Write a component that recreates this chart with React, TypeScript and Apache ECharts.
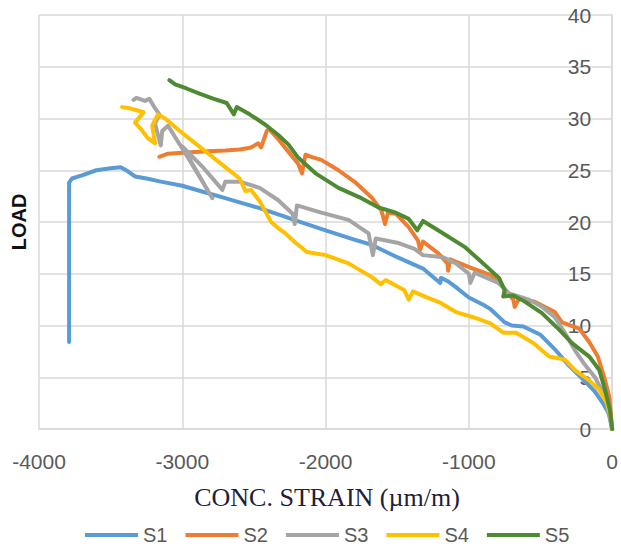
import React, { useEffect, useRef } from "react";
import * as echarts from "echarts";

const SERIES_NAMES = ["S1", "S2", "S3", "S4", "S5"];
const SERIES_COLORS = ["#5b9bd5", "#ed7d31", "#a5a5a5", "#ffc000", "#4e8a32"];

const X_TITLE = "CONC. STRAIN (µm/m)";
const Y_TITLE = "LOAD";

// [strain (µm/m), load]
const S1 = [
  [-3790, 8.4], [-3790, 23.8], [-3770, 24.2], [-3700, 24.5], [-3600, 25.0], [-3500, 25.2],
  [-3430, 25.3], [-3380, 24.9], [-3330, 24.4], [-3250, 24.2], [-3150, 23.9], [-3000, 23.5],
  [-2850, 22.9], [-2700, 22.3], [-2600, 21.9], [-2450, 21.3], [-2300, 20.6], [-2200, 20.1],
  [-2000, 19.2], [-1800, 18.3], [-1680, 17.8], [-1500, 16.6], [-1320, 15.5], [-1200, 14.1],
  [-1195, 14.6], [-1150, 14.3], [-1100, 13.8], [-1000, 12.7], [-900, 12.0], [-850, 11.6],
  [-750, 10.3], [-700, 10.0], [-620, 9.9], [-500, 9.1], [-400, 7.7], [-300, 6.1],
  [-210, 4.9], [-120, 3.6], [-60, 2.4], [-20, 1.4], [0, 0],
];

const S2 = [
  [-3160, 26.3], [-3100, 26.6], [-3000, 26.7], [-2850, 26.8], [-2700, 26.9], [-2600, 27.0],
  [-2520, 27.2], [-2470, 27.6], [-2450, 27.2], [-2430, 28.0], [-2410, 28.8], [-2395, 29.0],
  [-2330, 28.0], [-2260, 26.8], [-2190, 25.6], [-2165, 24.7], [-2140, 26.5], [-2100, 26.3],
  [-2030, 26.0], [-1910, 25.0], [-1790, 23.8], [-1680, 22.4], [-1610, 21.1], [-1585, 19.8],
  [-1565, 20.9], [-1510, 20.8], [-1420, 19.5], [-1355, 18.2], [-1340, 17.3], [-1320, 18.1],
  [-1215, 17.0], [-1150, 16.0], [-1145, 15.3], [-1130, 16.4], [-990, 15.6], [-850, 14.9],
  [-760, 13.7], [-690, 12.5], [-680, 11.8], [-650, 12.6], [-540, 12.3], [-400, 11.3],
  [-350, 10.3], [-230, 9.7], [-160, 8.4], [-100, 7.0], [-55, 5.0], [-20, 3.1], [0, 0],
];

const S3 = [
  [-3340, 31.8], [-3320, 32.0], [-3260, 31.7], [-3230, 31.9], [-3200, 31.2], [-3160, 30.4],
  [-3190, 29.5], [-3150, 27.4], [-3140, 28.8], [-3100, 29.3], [-2950, 26.0], [-2790, 22.3],
  [-3000, 27.3], [-2850, 25.2], [-2720, 23.1], [-2700, 23.9], [-2600, 23.9], [-2460, 23.3],
  [-2330, 22.1], [-2230, 20.8], [-2215, 19.8], [-2200, 21.6], [-2030, 20.9], [-1840, 20.2],
  [-1700, 18.9], [-1670, 16.8], [-1650, 18.4], [-1500, 18.0], [-1380, 17.4], [-1320, 16.8],
  [-1180, 16.6], [-1090, 16.0], [-1000, 15.0], [-990, 14.1], [-960, 15.1], [-790, 14.1],
  [-720, 13.1], [-580, 12.5], [-490, 11.8], [-400, 10.8], [-330, 9.3], [-260, 7.6],
  [-190, 6.2], [-120, 5.0], [-50, 3.1], [0, 0],
];

const S4 = [
  [-3420, 31.1], [-3370, 31.0], [-3320, 30.8], [-3270, 30.6], [-3330, 29.6], [-3290, 29.0],
  [-3240, 28.1], [-3190, 27.6], [-3210, 29.3], [-3170, 30.4], [-3120, 30.0], [-3000, 28.6],
  [-2900, 27.5], [-2800, 26.4], [-2700, 25.3], [-2600, 24.2], [-2560, 23.0], [-2520, 23.1],
  [-2460, 22.0], [-2420, 21.0], [-2380, 20.0], [-2330, 19.4], [-2280, 18.9], [-2210, 18.0],
  [-2130, 17.1], [-2000, 16.8], [-1840, 16.0], [-1680, 14.7], [-1615, 14.0], [-1580, 14.4],
  [-1450, 13.4], [-1420, 12.5], [-1390, 13.3], [-1290, 12.7], [-1200, 12.2], [-1090, 11.3],
  [-970, 10.8], [-850, 10.2], [-760, 9.3], [-670, 9.3], [-550, 8.3], [-440, 7.0],
  [-330, 6.7], [-260, 5.7], [-160, 4.7], [-90, 3.8], [-35, 2.5], [-10, 1.2], [0, 0],
];

const S5 = [
  [-3090, 33.7], [-3050, 33.3], [-2970, 32.9], [-2880, 32.4], [-2780, 31.9], [-2690, 31.5],
  [-2640, 30.4], [-2620, 31.1], [-2530, 30.4], [-2420, 29.4], [-2330, 28.4], [-2260, 27.5],
  [-2190, 26.2], [-2070, 24.7], [-1910, 23.3], [-1750, 22.3], [-1630, 21.4], [-1510, 20.9],
  [-1420, 20.3], [-1360, 19.2], [-1320, 20.1], [-1215, 19.2], [-1030, 17.6], [-900, 16.0],
  [-790, 14.6], [-750, 13.4], [-760, 12.8], [-690, 12.9], [-620, 12.4], [-490, 11.2],
  [-370, 9.6], [-280, 8.3], [-160, 7.0], [-90, 5.7], [-50, 3.8], [-15, 1.8], [0, 0],
];

const SERIES_DATA = [S1, S2, S3, S4, S5];

const GRID_COLOR = "#d9d9d9";
const LABEL_COLOR = "#595959";
const SANS = "'Liberation Sans', Arial, sans-serif";

export default function App() {
  const ref = useRef<HTMLDivElement>(null);

  useEffect(() => {
    if (!ref.current) return;
    const chart = echarts.init(ref.current, null, { renderer: "svg" });
    chart.setOption({
      animation: false,
      backgroundColor: "#ffffff",
      grid: { left: 39, right: 7, top: 15, bottom: 120, containLabel: false },
      xAxis: {
        type: "value",
        min: -4000,
        max: 0,
        interval: 1000,
        axisLine: { show: true, lineStyle: { color: GRID_COLOR, width: 1.5 } },
        axisTick: { show: false },
        axisLabel: {
          color: LABEL_COLOR,
          fontSize: 21,
          fontFamily: SANS,
          margin: 22,
          formatter: (v: number) => String(v),
        },
        splitLine: { show: true, lineStyle: { color: GRID_COLOR, width: 1.5 } },
      },
      yAxis: {
        type: "value",
        position: "right",
        min: 0,
        max: 40,
        interval: 5,
        axisLine: { show: true, lineStyle: { color: GRID_COLOR, width: 1.5 } },
        axisTick: { show: false },
        axisLabel: {
          inside: true,
          color: LABEL_COLOR,
          fontSize: 21,
          fontFamily: SANS,
          margin: 21,
          formatter: (v: number) => String(v),
        },
        splitLine: { show: true, lineStyle: { color: GRID_COLOR, width: 1.5 } },
      },
      legend: {
        left: 85,
        top: 525,
        padding: 0,
        icon: "rect",
        itemWidth: 53,
        itemHeight: 4,
        itemGap: 18,
        textStyle: { color: LABEL_COLOR, fontSize: 20, fontFamily: SANS, padding: [0, 0, 0, 0] },
        data: SERIES_NAMES,
      },
      graphic: [
        {
          type: "text",
          x: 327,
          y: 497,
          style: {
            text: X_TITLE,
            font: "26px 'Liberation Serif', 'Times New Roman', serif",
            fill: "#1f2038",
            textAlign: "center",
            textVerticalAlign: "middle",
          },
        },
        {
          type: "text",
          x: 19,
          y: 222,
          rotation: Math.PI / 2,
          style: {
            text: Y_TITLE,
            font: "bold 20px 'Liberation Sans', Arial, sans-serif",
            fill: "#111111",
            textAlign: "center",
            textVerticalAlign: "middle",
          },
        },
      ],
      series: SERIES_NAMES.map((name, i) => ({
        name,
        type: "line",
        data: SERIES_DATA[i],
        showSymbol: false,
        symbol: "none",
        smooth: false,
        color: SERIES_COLORS[i],
        lineStyle: { color: SERIES_COLORS[i], width: 4, join: "round", cap: "round" },
      })),
    });
    return () => chart.dispose();
  }, []);

  return <div ref={ref} style={{ width: 621, height: 549, position: "absolute", left: 0, top: 0 }} />;
}
